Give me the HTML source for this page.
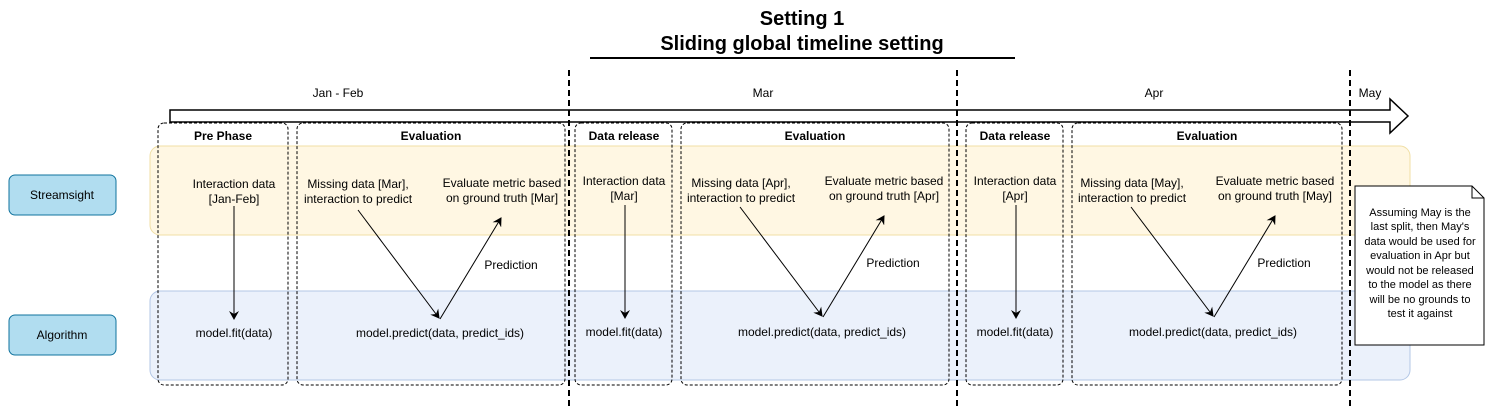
<!DOCTYPE html>
<html><head><meta charset="utf-8"><style>
html,body{margin:0;padding:0;background:#fff;}
svg{display:block;font-family:"Liberation Sans",Arial,sans-serif;}
</style></head><body>
<svg width="1506" height="409" viewBox="0 0 1506 409" xmlns="http://www.w3.org/2000/svg">
<defs>
<marker id="a" markerWidth="10" markerHeight="10" refX="8" refY="5" orient="auto" markerUnits="userSpaceOnUse"><path d="M0,0 L9,5 L0,10 L3,5 z" fill="#000"/></marker>
</defs>
<text x="802" y="25" font-size="20" font-weight="bold" text-anchor="middle">Setting 1</text>
<text x="802" y="50" font-size="20" font-weight="bold" text-anchor="middle">Sliding global timeline setting</text>
<line x1="590" y1="58" x2="1015" y2="58" stroke="#000" stroke-width="2"/>
<!-- lanes -->
<rect x="150" y="146" width="1260" height="89" rx="10" fill="#fff7e3" stroke="#f0dfa6"/>
<rect x="150" y="291" width="1260" height="89" rx="10" fill="#ebf1fb" stroke="#b3c7e6"/>
<rect x="9" y="175" width="107" height="40" rx="6" fill="#b1ddf0" stroke="#10739e"/>
<text x="62" y="199" font-size="12" text-anchor="middle">Streamsight</text>
<rect x="9" y="315" width="107" height="40" rx="6" fill="#b1ddf0" stroke="#10739e"/>
<text x="62" y="339" font-size="12" text-anchor="middle">Algorithm</text>
<!-- timeline arrow -->
<path d="M170,110 L1390,110 L1390,99 L1408,116 L1390,133 L1390,122 L170,122 Z" fill="#fff" stroke="#000" stroke-width="1.5"/>
<g font-size="12" text-anchor="middle">
<text x="338" y="97">Jan - Feb</text><text x="763" y="97">Mar</text><text x="1154" y="97">Apr</text><text x="1370" y="97">May</text>
</g>
<!-- columns -->
<g fill="none" stroke="#000" stroke-dasharray="3,2">
<rect x="158" y="123" width="130" height="262" rx="6"/>
<rect x="297" y="123" width="268" height="262" rx="6"/>
<rect x="575" y="123" width="97" height="262" rx="6"/>
<rect x="681" y="123" width="268" height="262" rx="6"/>
<rect x="966" y="123" width="97" height="262" rx="6"/>
<rect x="1072" y="123" width="270" height="262" rx="6"/>
</g>
<g stroke="#000" stroke-width="2" stroke-dasharray="6,4">
<line x1="569" y1="70" x2="569" y2="409"/><line x1="957" y1="70" x2="957" y2="409"/><line x1="1350" y1="70" x2="1350" y2="409"/>
</g>
<g font-size="12" font-weight="bold" text-anchor="middle">
<text x="223" y="140">Pre Phase</text><text x="431" y="140">Evaluation</text>
<text x="624" y="140">Data release</text><text x="815" y="140">Evaluation</text>
<text x="1015" y="140">Data release</text><text x="1207" y="140">Evaluation</text>
</g>
<g font-size="12" text-anchor="middle">
<text x="234" y="188">Interaction data</text><text x="234" y="203">[Jan-Feb]</text>
<text x="358" y="188">Missing data [Mar],</text><text x="358" y="203">interaction to predict</text>
<text x="502" y="187">Evaluate metric based</text><text x="502" y="202">on ground truth [Mar]</text>
<text x="511" y="269">Prediction</text>
<text x="234" y="337">model.fit(data)</text>
<text x="440" y="337">model.predict(data, predict_ids)</text>

<text x="624" y="185">Interaction data</text><text x="624" y="200">[Mar]</text>
<text x="741" y="187">Missing data [Apr],</text><text x="741" y="202">interaction to predict</text>
<text x="884" y="185">Evaluate metric based</text><text x="884" y="200">on ground truth [Apr]</text>
<text x="893" y="267">Prediction</text>
<text x="624" y="336">model.fit(data)</text>
<text x="822" y="336">model.predict(data, predict_ids)</text>

<text x="1015" y="185">Interaction data</text><text x="1015" y="200">[Apr]</text>
<text x="1132" y="187">Missing data [May],</text><text x="1132" y="202">interaction to predict</text>
<text x="1275" y="185">Evaluate metric based</text><text x="1275" y="200">on ground truth [May]</text>
<text x="1284" y="267">Prediction</text>
<text x="1015" y="336">model.fit(data)</text>
<text x="1213" y="336">model.predict(data, predict_ids)</text>
</g>
<g stroke="#000" fill="none" marker-end="url(#a)">
<line x1="234" y1="206" x2="234" y2="319"/>
<line x1="358" y1="210" x2="439" y2="318"/>
<line x1="440" y1="319" x2="501" y2="218"/>
<line x1="625" y1="205" x2="625" y2="318"/>
<line x1="740" y1="207" x2="822" y2="316"/>
<line x1="823" y1="317" x2="884" y2="216"/>
<line x1="1016" y1="205" x2="1016" y2="318"/>
<line x1="1131" y1="207" x2="1213" y2="316"/>
<line x1="1214" y1="317" x2="1275" y2="216"/>
</g>
<!-- note -->
<path d="M1355,186 L1472,186 L1484,198 L1484,345 L1355,345 Z" fill="#fff" stroke="#000"/>
<path d="M1472,186 L1472,198 L1484,198" fill="none" stroke="#000"/>
<g font-size="11" text-anchor="middle">
<text x="1420" y="216">Assuming May is the</text>
<text x="1420" y="230">last split, then May's</text>
<text x="1420" y="245">data would be used for</text>
<text x="1420" y="259">evaluation in Apr but</text>
<text x="1420" y="274">would not be released</text>
<text x="1420" y="288">to the model as there</text>
<text x="1420" y="303">will be no grounds to</text>
<text x="1420" y="317">test it against</text>
</g>
</svg>
</body></html>
